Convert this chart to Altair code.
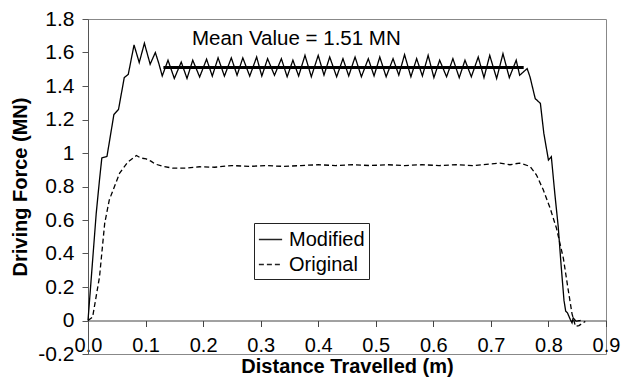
import altair as alt
import pandas as pd

# ---- data ----
mod_x = [0.0, 0.0143, 0.020, 0.024, 0.033, 0.045, 0.053, 0.063, 0.070, 0.080, 0.089, 0.098, 0.108, 0.117, 0.123, 0.129,
         0.139, 0.150, 0.162, 0.172, 0.182, 0.194, 0.206, 0.216, 0.226, 0.237, 0.249, 0.259, 0.269, 0.281,
         0.293, 0.302, 0.312, 0.324, 0.336, 0.346, 0.356, 0.366, 0.377, 0.388, 0.400, 0.410, 0.420, 0.432,
         0.443, 0.453, 0.464, 0.475, 0.487, 0.497, 0.507, 0.518, 0.530, 0.540, 0.550, 0.561, 0.571, 0.581,
         0.591, 0.601, 0.611, 0.623, 0.634, 0.645, 0.655, 0.666, 0.678, 0.688, 0.698, 0.710, 0.721, 0.732, 0.744,
         0.750, 0.763, 0.768, 0.777, 0.786, 0.792, 0.800, 0.805, 0.811, 0.817, 0.822, 0.827, 0.830, 0.833,
         0.838, 0.841, 0.843, 0.848, 0.856]
mod_y = [0.0, 0.64, 0.84, 0.97, 0.98, 1.23, 1.26, 1.45, 1.47, 1.645, 1.54, 1.655, 1.53, 1.60, 1.535, 1.46,
         1.554, 1.445, 1.543, 1.445, 1.554, 1.454, 1.560, 1.459, 1.568, 1.459, 1.568, 1.464, 1.568, 1.459,
         1.573, 1.459, 1.563, 1.464, 1.563, 1.455, 1.554, 1.46, 1.583, 1.455, 1.583, 1.465, 1.573, 1.455,
         1.563, 1.46, 1.573, 1.455, 1.563, 1.46, 1.573, 1.455, 1.563, 1.465, 1.587, 1.455, 1.563, 1.46,
         1.583, 1.45, 1.554, 1.455, 1.563, 1.45, 1.554, 1.455, 1.573, 1.45, 1.583, 1.445, 1.593, 1.45, 1.554,
         1.464, 1.504, 1.454, 1.325, 1.296, 1.117, 0.958, 0.978, 0.76, 0.56, 0.33, 0.12, 0.055, 0.046,
         0.006, -0.014, 0.016, -0.004, 0.0]

orig_x = [0.0, 0.008, 0.020, 0.029, 0.037, 0.046, 0.055, 0.069, 0.084, 0.092, 0.101, 0.110, 0.116, 0.130,
          0.147, 0.171, 0.194, 0.22, 0.25, 0.28, 0.31, 0.34, 0.37, 0.40, 0.43, 0.46, 0.49, 0.52, 0.55,
          0.58, 0.61, 0.64, 0.67, 0.70, 0.716, 0.733, 0.750, 0.768, 0.779, 0.791, 0.803, 0.814, 0.826,
          0.834, 0.841, 0.847, 0.853, 0.864]
orig_y = [0.0, 0.02, 0.26, 0.58, 0.72, 0.80, 0.88, 0.945, 0.985, 0.97, 0.965, 0.95, 0.935, 0.92,
          0.91, 0.91, 0.918, 0.915, 0.925, 0.92, 0.925, 0.92, 0.925, 0.93, 0.925, 0.93, 0.925, 0.93, 0.925,
          0.93, 0.925, 0.93, 0.925, 0.935, 0.94, 0.93, 0.94, 0.92, 0.87, 0.78, 0.67, 0.55, 0.37,
          0.19, 0.04, -0.035, -0.03, -0.005]

series_names = ["Modified", "Original"]
mean_value = 1.51
mean_x_start = 0.131
mean_x_end = 0.757
annot_text = "Mean Value = 1.51 MN"
annot_x = 0.362
annot_y = 1.643
x_ticks = [0.0, 0.1, 0.2, 0.3, 0.4, 0.5, 0.6, 0.7, 0.8, 0.9]
y_ticks = [-0.2, 0.0, 0.2, 0.4, 0.6, 0.8, 1.0, 1.2, 1.4, 1.6, 1.8]

FONT = "Liberation Sans"

lines_df = pd.concat([
    pd.DataFrame({"x": mod_x, "y": mod_y, "series": series_names[0]}),
    pd.DataFrame({"x": orig_x, "y": orig_y, "series": series_names[1]}),
])
mean_df = pd.DataFrame({"x": [mean_x_start], "x2": [mean_x_end], "y": [mean_value]})
annot_df = pd.DataFrame({"x": [annot_x], "y": [annot_y], "t": [annot_text]})

xscale = alt.Scale(domain=[0, 0.9], nice=False, zero=False)
yscale = alt.Scale(domain=[-0.2, 1.8], nice=False, zero=False)

W, H = 518, 335

x_axis = alt.Axis(values=x_ticks, format=".1f", offset=-H * 0.2 / 2.0,
                  tickSize=6, labelPadding=9, grid=False, labelFlush=False,
                  labelOverlap=False, titleY=52, titleBaseline="alphabetic",
                  domainColor="#444", tickColor="#444")
y_axis = alt.Axis(values=y_ticks, labelExpr="toString(round(datum.value*10)/10)",
                  tickSize=6, labelPadding=8, grid=False, labelFlush=False,
                  labelOverlap=False, titleX=-62, titleY=H / 2,
                  titleBaseline="alphabetic", titleAlign="center",
                  domainColor="#555", tickColor="#555")
X_TITLE = "Distance Travelled (m)"
Y_TITLE = "Driving Force (MN)"

lines = alt.Chart(lines_df).mark_line(strokeWidth=1.3, color="black").encode(
    x=alt.X("x:Q", scale=xscale, title=X_TITLE, axis=x_axis),
    y=alt.Y("y:Q", scale=yscale, title=Y_TITLE, axis=y_axis),
    strokeDash=alt.StrokeDash("series:N",
                              scale=alt.Scale(domain=series_names, range=[[1, 0], [5, 3]]),
                              legend=alt.Legend(title=None, orient="none", legendX=166, legendY=204,
                                                strokeColor="#222", fillColor="white", padding=4,
                                                symbolType="stroke", symbolSize=540,
                                                symbolStrokeWidth=1.3, symbolStrokeColor="#222",
                                                labelFontSize=20, labelFont=FONT, labelOffset=6,
                                                rowPadding=2, labelColor="black")),
    order="x:Q",
)

mean_rule = alt.Chart(mean_df).mark_rule(strokeWidth=3, color="black").encode(
    x=alt.X("x:Q", scale=xscale, title=X_TITLE, axis=x_axis), x2="x2:Q",
    y=alt.Y("y:Q", scale=yscale, title=Y_TITLE, axis=y_axis)
)

annot = alt.Chart(annot_df).mark_text(font=FONT, fontSize=20.5, align="center",
                                      baseline="alphabetic", color="black").encode(
    x=alt.X("x:Q", scale=xscale, title=X_TITLE, axis=x_axis),
    y=alt.Y("y:Q", scale=yscale, title=Y_TITLE, axis=y_axis), text="t:N"
)

chart = alt.layer(lines, mean_rule, annot).properties(
    width=W, height=H,
    autosize=alt.AutoSizeParams(type="none"),
    padding={"left": 88, "top": 19, "right": 15, "bottom": 23},
).configure_view(stroke="#888", strokeWidth=1).configure_axis(
    labelFont=FONT, titleFont=FONT, labelColor="black", titleColor="black",
    titleFontWeight="bold", titleFontSize=20, titlePadding=0, labelOverlap=False,
).configure_axisX(labelFontSize=20).configure_axisY(labelFontSize=21)

chart.save("out.html", embed_options={"renderer": "svg", "actions": False})
